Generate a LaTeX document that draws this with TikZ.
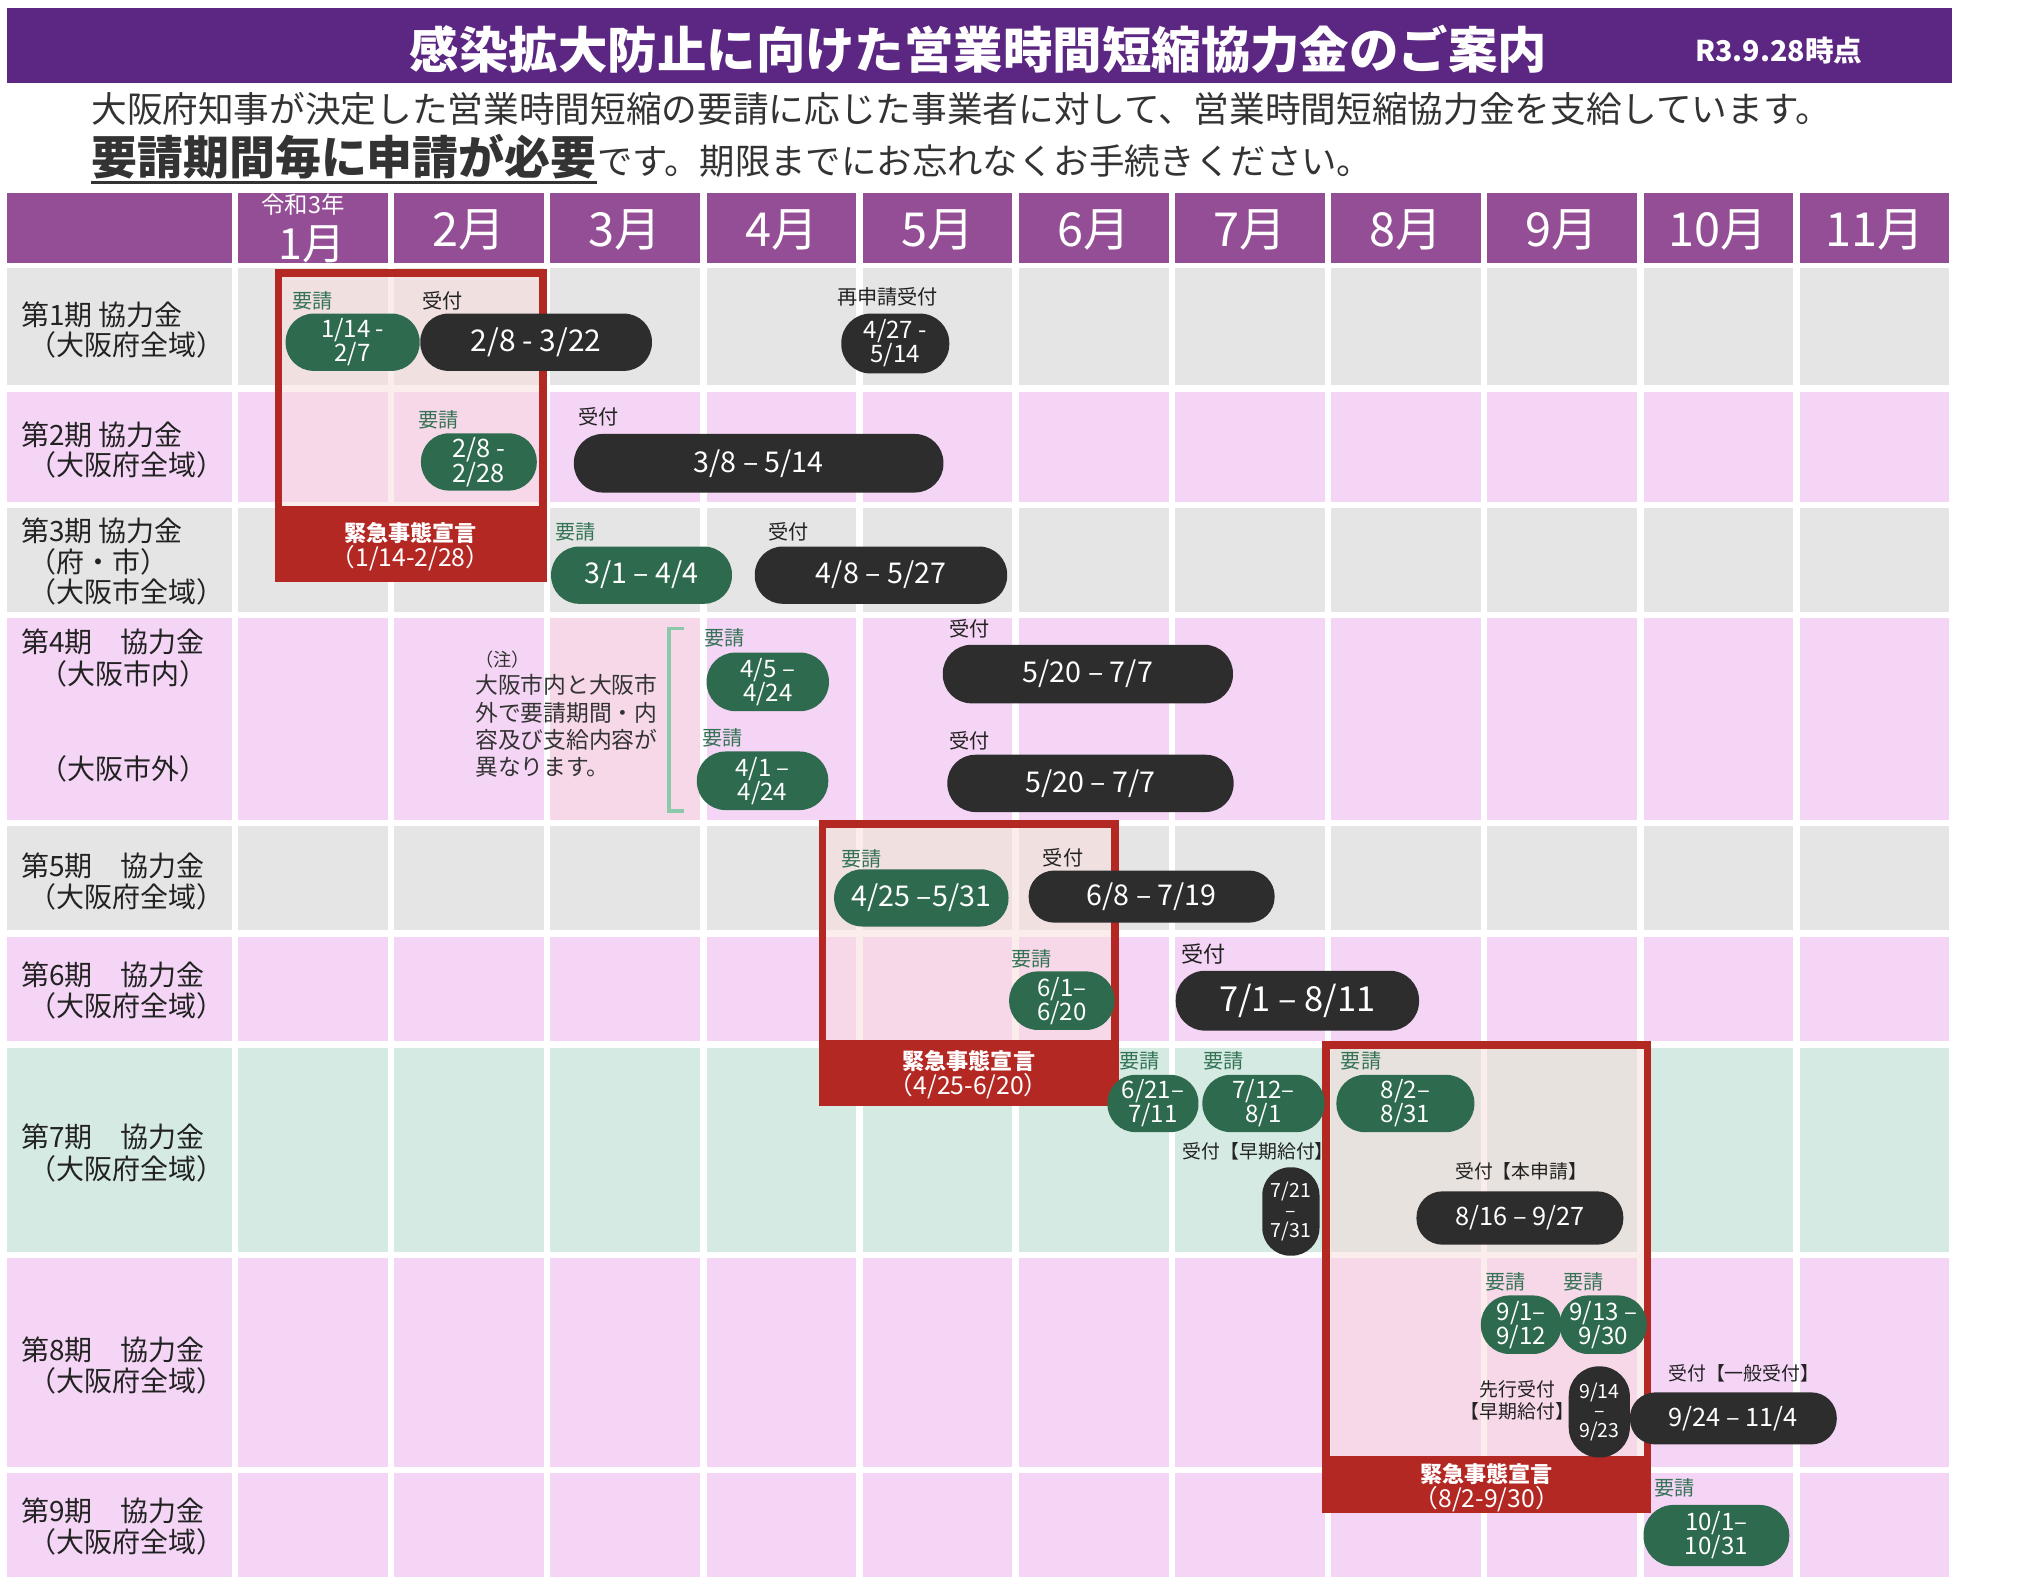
\documentclass[tikz,border=0pt]{standalone}
\usepackage{fontspec}
\setmainfont{Noto Sans CJK JP}
\usetikzlibrary{shapes.misc}
\definecolor{titlebar}{RGB}{91,39,130}
\definecolor{headc}{RGB}{148,78,150}
\definecolor{grayc}{RGB}{230,229,230}
\definecolor{pinkc}{RGB}{245,213,245}
\definecolor{greenc}{RGB}{213,234,226}
\definecolor{pilldark}{RGB}{45,45,45}
\definecolor{pillgreen}{RGB}{46,107,78}
\definecolor{labgreen}{RGB}{52,115,85}
\definecolor{redc}{RGB}{180,40,36}
\definecolor{overlayc}{RGB}{250,220,220}
\definecolor{bracketc}{RGB}{140,200,170}
\definecolor{textc}{RGB}{51,51,51}
\definecolor{labc}{RGB}{34,34,34}
\tikzset{
 pillbase/.style={rectangle, text=white, inner sep=0pt, align=center},
 greq/.style={text=labgreen, inner sep=0pt, font=\fontsize{15.5}{15.5}\selectfont},
 rcv/.style={text=labc, inner sep=0pt, font=\fontsize{15.5}{15.5}\selectfont},
 rowlab/.style={text=labc, inner sep=0pt, anchor=west, font=\fontsize{21.5}{21.5}\selectfont},
 month/.style={text=white, inner sep=0pt, font=\fontsize{36}{36}\selectfont},
 emlab/.style={text=white, inner sep=0pt, align=center, font=\fontsize{19}{19}\selectfont},
 ovl/.style={fill=overlayc, fill opacity=0.5},
 redframe/.style={draw=redc, line width=6pt},
}
% #1 colour, #2 name, #3 x, #4 y, #5 w, #6 h, #7 radius, #8 font size, #9 text
\newcommand{\MyPill}[9]{\node[pillbase, fill=#1, minimum width=#5pt, minimum height=#6pt, rounded corners=#7pt, font=\fontsize{#8}{#8}\selectfont] (#2) at (#3,#4) {#9};}
\begin{document}
\begin{tikzpicture}[x=1pt,y=-1pt]
\useasboundingbox (0,0) rectangle (1560,1214);
\fill[white] (0,0) rectangle (1560,1214);
% title
\fill[titlebar] (5,6) rectangle (1500,64);
\node[text=white, inner sep=0pt, font=\fontsize{38}{38}\selectfont\bfseries] (title) at (752,38) {感染拡大防止に向けた営業時間短縮協力金のご案内};
\node[text=white, inner sep=0pt, font=\fontsize{22}{22}\selectfont\bfseries] (date) at (1367,39) {R3.9.28時点};
% intro
\node[text=textc, inner sep=0pt, anchor=west, font=\fontsize{27.4}{27.4}\selectfont] (intro1) at (70,84) {大阪府知事が決定した営業時間短縮の要請に応じた事業者に対して、営業時間短縮協力金を支給しています。};
\node[text=textc, inner sep=0pt, anchor=base west, font=\fontsize{35.3}{35.3}\selectfont\bfseries] (intro2a) at (70,134) {要請期間毎に申請が必要};
\node[text=textc, inner sep=0pt, anchor=base west, font=\fontsize{27.2}{27.2}\selectfont] (intro2b) at (intro2a.base east) {です。期限までにお忘れなくお手続きください。};
\draw[textc, line width=2.5pt] ([yshift=-6pt]intro2a.base west) -- ([yshift=-6pt]intro2a.base east);
% header
\fill[headc] (5,148) rectangle (178,202);
\foreach \i in {0,...,10} { \fill[headc] ({183+120*\i},148) rectangle ({298+120*\i},202); }
\node[text=white, inner sep=0pt, font=\fontsize{18}{18}\selectfont] (reiwa) at (233,157) {令和3年};
\node[month, font=\fontsize{33}{33}\selectfont] (m1) at (240,188) {1月};
\foreach \i in {1,...,10} { \pgfmathtruncatemacro\mm{\i+1} \node[month] (m\mm) at ({240.5+120*\i},177) {\mm 月}; }
% cells
\foreach \ya/\yb/\c in {206/296/grayc, 301/386/pinkc, 390/470/grayc, 475/630/pinkc, 635/715/grayc, 720/800/pinkc, 805/962/greenc, 967/1127/pinkc, 1132/1212/pinkc} {
  \fill[\c] (5,\ya) rectangle (178,\yb);
  \foreach \i in {0,...,10} { \fill[\c] ({183+120*\i},\ya) rectangle ({298+120*\i},\yb); }
}
\fill[ovl] (423,475) rectangle (538,630);
% row labels
\node[rowlab] (r1a) at (16,242) {第1期 協力金};
\node[rowlab] (r1b) at (22,265) {（大阪府全域）};
\node[rowlab] (r2a) at (16,334) {第2期 協力金};
\node[rowlab] (r2b) at (22,357) {（大阪府全域）};
\node[rowlab] (r3a) at (16,408) {第3期 協力金};
\node[rowlab] (r3b) at (22,432) {（府・市）};
\node[rowlab] (r3c) at (22,455) {（大阪市全域）};
\node[rowlab] (r4a) at (16,493) {第4期　協力金};
\node[rowlab] (r4b) at (30,518) {（大阪市内）};
\node[rowlab] (r4c) at (30,591) {（大阪市外）};
\node[rowlab] (r5a) at (16,665) {第5期　協力金};
\node[rowlab] (r5b) at (22,689) {（大阪府全域）};
\node[rowlab] (r6a) at (16,749) {第6期　協力金};
\node[rowlab] (r6b) at (22,773) {（大阪府全域）};
\node[rowlab] (r7a) at (16,874) {第7期　協力金};
\node[rowlab] (r7b) at (22,898) {（大阪府全域）};
\node[rowlab] (r8a) at (16,1037) {第8期　協力金};
\node[rowlab] (r8b) at (22,1061) {（大阪府全域）};
\node[rowlab] (r9a) at (16,1161) {第9期　協力金};
\node[rowlab] (r9b) at (22,1185) {（大阪府全域）};
% label behind frame
\node[rcv, font=\fontsize{14.5}{14.5}\selectfont] (l7e) at (967,885) {受付【早期給付】};
% emergency frames
\fill[ovl] (211,207) rectangle (420,392);
\draw[redframe] (214,210) rectangle (417,392);
\fill[redc] (211,392) rectangle (420,447);
\node[emlab] (em1) at (315.5,420) {{\fontsize{17}{17}\selectfont\bfseries 緊急事態宣言}\\（1/14-2/28）};
\fill[ovl] (629,630) rectangle (860,802);
\draw[redframe] (632,633) rectangle (857,802);
\fill[redc] (629,800) rectangle (860,850);
\node[emlab] (em2) at (744.5,826) {{\fontsize{17}{17}\selectfont\bfseries 緊急事態宣言}\\（4/25-6/20）};
\fill[ovl] (1016,800) rectangle (1269,1122);
\draw[redframe] (1019,803) rectangle (1266,1122);
\fill[redc] (1016,1122) rectangle (1269,1163);
\node[emlab] (em3) at (1142.5,1143) {{\fontsize{17}{17}\selectfont\bfseries 緊急事態宣言}\\（8/2-9/30）};
% note and bracket
\node[text=textc, align=left, anchor=west, inner sep=0pt, font=\fontsize{17.5}{21}\selectfont] (note) at (365,549) {{\fontsize{14}{14}\selectfont （注）}\\大阪市内と大阪市\\外で要請期間・内\\容及び支給内容が\\異なります。};
\draw[bracketc, line width=3pt] (526,483) -- (514,483) -- (514,623) -- (526,623);
% small labels
\node[greq] (l1a) at (240,231) {要請};
\node[rcv] (l1b) at (340,231) {受付};
\node[rcv] (l1c) at (682,228) {再申請受付};
\node[greq] (l2a) at (337,323) {要請};
\node[rcv] (l2b) at (460,320) {受付};
\node[greq] (l3a) at (442,409) {要請};
\node[rcv] (l3b) at (606,409) {受付};
\node[greq] (l4a) at (557,490) {要請};
\node[rcv] (l4b) at (745,483) {受付};
\node[greq] (l4c) at (555,567) {要請};
\node[rcv] (l4d) at (745,569) {受付};
\node[greq] (l5a) at (662,660) {要請};
\node[rcv] (l5b) at (817,659) {受付};
\node[greq] (l6a) at (793,737) {要請};
\node[rcv, font=\fontsize{17}{17}\selectfont] (l6b) at (925,733) {受付};
\node[greq] (l7a) at (876,815) {要請};
\node[greq] (l7b) at (940,815) {要請};
\node[greq] (l7c) at (1046,815) {要請};
\node[rcv, font=\fontsize{14.5}{14.5}\selectfont] (l7f) at (1169,900) {受付【本申請】};
\node[greq] (l8a) at (1157,985) {要請};
\node[greq] (l8b) at (1217,985) {要請};
\node[rcv, align=center, font=\fontsize{14.5}{17}\selectfont] (l8c) at (1166,1076) {先行受付\\【早期給付】};
\node[rcv, font=\fontsize{14.5}{14.5}\selectfont] (l8d) at (1340,1055) {受付【一般受付】};
\node[greq] (l9a) at (1287,1143) {要請};
% pills
\MyPill{pillgreen}{p1g}{271}{263}{103}{44}{21.5}{18.5}{1/14 -\\2/7}
\MyPill{pilldark}{p1d}{412}{263}{178}{44}{21.5}{23}{2/8 - 3/22}
\MyPill{pilldark}{p1r}{688}{264}{83}{46}{22.5}{18.5}{4/27 -\\5/14}
\MyPill{pillgreen}{p2g}{368}{355}{89}{44}{21.5}{19.5}{2/8 -\\2/28}
\MyPill{pilldark}{p2d}{583}{356}{284}{45}{22}{22}{3/8 – 5/14}
\MyPill{pillgreen}{p3g}{493}{442}{139}{44}{21.5}{22}{3/1 – 4/4}
\MyPill{pilldark}{p3d}{677}{442}{194}{44}{21.5}{22}{4/8 – 5/27}
\MyPill{pillgreen}{p4g1}{590}{524}{94}{45}{22}{18.5}{4/5 –\\4/24}
\MyPill{pilldark}{p4d1}{836}{518}{223}{45}{22}{22}{5/20 – 7/7}
\MyPill{pillgreen}{p4g2}{586}{600}{101}{45}{22}{18.5}{4/1 –\\4/24}
\MyPill{pilldark}{p4d2}{838}{602}{220}{44}{21.5}{22}{5/20 – 7/7}
\MyPill{pillgreen}{p5g}{708}{690}{134}{44}{21.5}{22}{4/25 –5/31}
\MyPill{pilldark}{p5d}{885}{689}{189}{40}{19.5}{22}{6/8 – 7/19}
\MyPill{pillgreen}{p6g}{816}{769}{81}{45}{22}{18.5}{6/1–\\6/20}
\MyPill{pilldark}{p6d}{997}{769}{187}{46}{22.5}{26.5}{7/1 – 8/11}
\MyPill{pillgreen}{p7g1}{886}{848}{70}{44}{21.5}{18.5}{6/21–\\7/11}
\MyPill{pillgreen}{p7g2}{971}{848}{94}{44}{21.5}{18.5}{7/12–\\8/1}
\MyPill{pillgreen}{p7g3}{1080}{848}{106}{44}{21.5}{18.5}{8/2–\\8/31}
\MyPill{pilldark}{p7v}{992}{931}{44}{68}{21.5}{15}{7/21\\–\\7/31}
\MyPill{pilldark}{p7d}{1168}{936}{159}{41}{20}{19.5}{8/16 – 9/27}
\MyPill{pillgreen}{p8g1}{1169}{1018}{62}{45}{22}{18.5}{9/1–\\9/12}
\MyPill{pillgreen}{p8g2}{1232}{1018}{67}{45}{22}{18.5}{9/13 –\\9/30}
\MyPill{pilldark}{p8v}{1229}{1085}{47}{70}{23}{15}{9/14\\–\\9/23}
\MyPill{pilldark}{p8d}{1332}{1090}{159}{40}{19.5}{19.5}{9/24 – 11/4}
\MyPill{pillgreen}{p9g}{1319}{1180}{112}{47}{23}{18.5}{10/1–\\10/31}
\end{tikzpicture}
\end{document}
